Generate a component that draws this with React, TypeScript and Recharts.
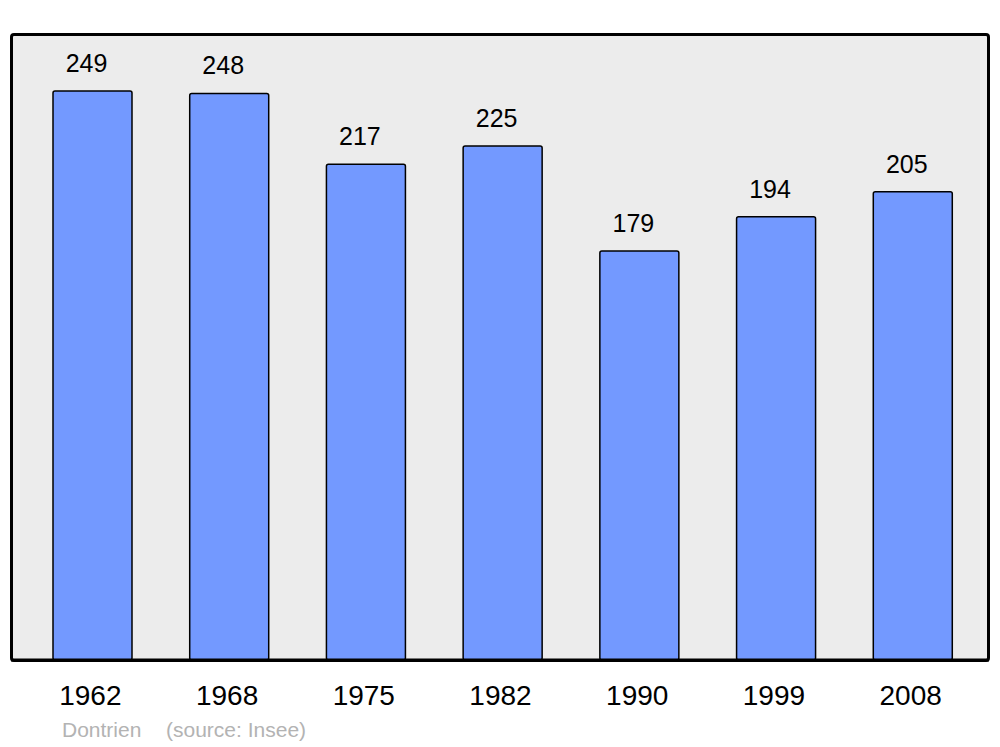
import { BarChart, Bar, XAxis, YAxis, CartesianGrid, LabelList } from 'recharts'

// population by census year
const years = ['1962', '1968', '1975', '1982', '1990', '1999', '2008']
const population = [249, 248, 217, 225, 179, 194, 205]

const data = years.map((year, i) => ({ year, population: population[i] }))

const FONT = '"Liberation Sans", Arial, sans-serif'

export default function App() {
  return (
    <div style={{ position: 'absolute', left: 0, top: 0, width: 1000, height: 747, fontFamily: FONT }}>
      <BarChart
        width={1000}
        height={747}
        data={data}
        margin={{ top: 34, right: 11, bottom: 0, left: 11 }}
      >
        <CartesianGrid horizontal={false} vertical={false} fill="#ececec" />
        <XAxis
          dataKey="year"
          height={87}
          padding={{ left: 13, right: 8 }}
          tickLine={false}
          tickMargin={19}
          dx={-2}
          axisLine={{ stroke: '#000', strokeWidth: 3 }}
          tick={{ fill: '#000', fontSize: 28, fontFamily: FONT }}
        />
        <YAxis width={0} domain={[0, 274]} hide />
        <Bar
          dataKey="population"
          barSize={79}
          fill="#7399ff"
          stroke="#000"
          strokeWidth={1.5}
          radius={2}
          isAnimationActive={false}
        >
          <LabelList
            dataKey="population"
            position="top"
            offset={19}
            dx={-6}
            fill="#000"
            fontSize={25}
            fontFamily={FONT}
          />
        </Bar>
      </BarChart>
      {/* plot frame */}
      <div
        style={{
          position: 'absolute',
          left: 10,
          top: 33,
          width: 980,
          height: 629,
          boxSizing: 'border-box',
          border: '3px solid #000',
          borderRadius: 4,
          pointerEvents: 'none',
        }}
      />
      <span style={{ position: 'absolute', left: 62, top: 718, fontSize: 21, color: '#b3b3b3', whiteSpace: 'pre' }}>
        Dontrien
      </span>
      <span style={{ position: 'absolute', left: 166, top: 718, fontSize: 21, color: '#b3b3b3', whiteSpace: 'pre' }}>
        (source: Insee)
      </span>
    </div>
  )
}
